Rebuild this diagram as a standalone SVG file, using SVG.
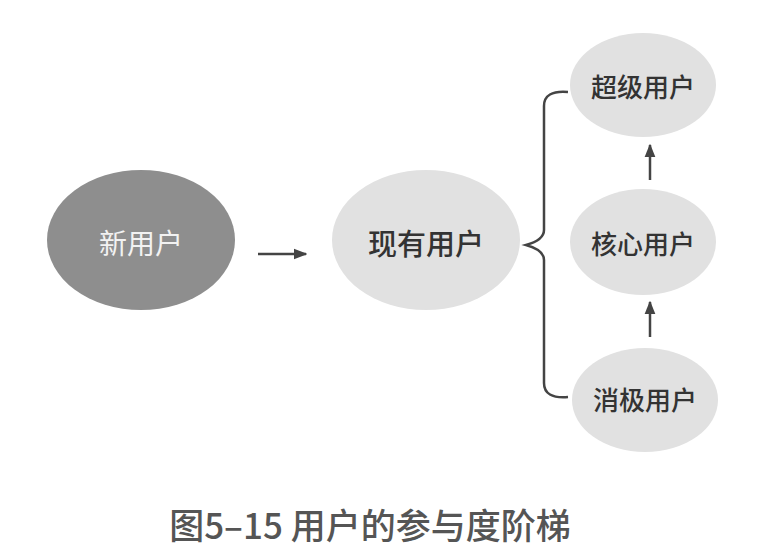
<svg xmlns="http://www.w3.org/2000/svg" width="762" height="550" viewBox="0 0 762 550">
<defs>
<style>
.t{font-family:"Noto Sans CJK SC","Noto Sans",sans-serif;text-anchor:middle;dominant-baseline:central}
.light{fill:#e1e1e1}
.lt{fill:#333;font-size:26px;font-weight:500}
.ln{stroke:#444;stroke-width:2.5;fill:none}
</style>
<marker id="ah" viewBox="0 0 10 10" refX="9" refY="5" markerWidth="5.5" markerHeight="5.5" orient="auto" markerUnits="strokeWidth">
<path d="M0,1 L10,5 L0,9 Z" fill="#444"/>
</marker>
</defs>
<rect width="762" height="550" fill="#fff"/>
<g id="new-user">
<ellipse cx="141" cy="240" rx="94" ry="70" fill="#8e8e8e"/>
<text class="t" x="141" y="242" fill="#f2f2f2" font-size="28">新用户</text>
</g>
<g id="existing-user">
<ellipse class="light" cx="426" cy="240" rx="94" ry="70"/>
<text class="t" x="426" y="242" fill="#333" font-size="29" font-weight="500">现有用户</text>
</g>
<g id="super-user">
<ellipse class="light" cx="643" cy="85" rx="73" ry="52"/>
<text class="t lt" x="643" y="85">超级用户</text>
</g>
<g id="core-user">
<ellipse class="light" cx="643" cy="242" rx="73" ry="53"/>
<text class="t lt" x="643" y="242">核心用户</text>
</g>
<g id="passive-user">
<ellipse class="light" cx="645" cy="400" rx="73" ry="52"/>
<text class="t lt" x="645" y="398">消极用户</text>
</g>
<g id="connectors">
<line class="ln" x1="258" y1="254" x2="306" y2="254" marker-end="url(#ah)"/>
<path class="ln" d="M568,92 Q544,90 544,106 L544,230 Q544,240 526,245 Q544,250 544,260 L544,383 Q544,399 568,397"/>
<line class="ln" x1="650" y1="180" x2="650" y2="145" marker-end="url(#ah)"/>
<line class="ln" x1="650" y1="337" x2="650" y2="302" marker-end="url(#ah)"/>
</g>
<text class="t" x="370" y="523" fill="#555" font-size="35" font-weight="500">图5–15 用户的参与度阶梯</text>
</svg>
